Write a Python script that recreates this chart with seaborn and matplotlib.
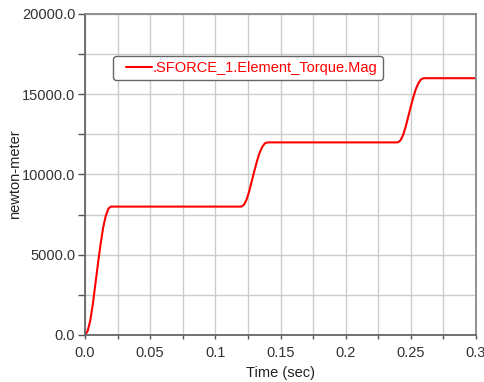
import matplotlib
matplotlib.use("Agg")
import matplotlib.pyplot as plt
import seaborn as sns
import pandas as pd
from matplotlib.ticker import MultipleLocator, FuncFormatter
from matplotlib.legend_handler import HandlerLine2D
from matplotlib.lines import Line2D

time_sec = [0.0, 0.002, 0.004, 0.006, 0.008, 0.010, 0.012, 0.014, 0.016, 0.018, 0.020,
            0.120, 0.122, 0.124, 0.126, 0.128, 0.130, 0.132, 0.134, 0.136, 0.138, 0.140,
            0.240, 0.242, 0.244, 0.246, 0.248, 0.250, 0.252, 0.254, 0.256, 0.258, 0.260,
            0.300]
torque = [0, 240, 880, 1920, 3200, 4480, 5680, 6720, 7440, 7880, 8000,
          8000, 8120, 8440, 8960, 9600, 10240, 10840, 11360, 11720, 11940, 12000,
          12000, 12120, 12440, 12960, 13600, 14240, 14840, 15360, 15720, 15940, 16000,
          16000]
series_name = ".SFORCE_1.Element_Torque.Mag"
x_label = "Time (sec)"
y_label = "newton-meter"

sns.set_style("white")
plt.rcParams['font.family'] = ['Liberation Sans', 'DejaVu Sans']

df = pd.DataFrame({"t": time_sec, "v": torque, "s": series_name})

fig = plt.figure(figsize=(4.85, 3.82), dpi=100)
ax = fig.add_axes([85/485, 47/382, 391/485, 321/382])

sns.lineplot(data=df, x="t", y="v", hue="s", palette=["#ff0000"], linewidth=1.5, ax=ax)

ax.set_xlim(0, 0.3)
ax.set_ylim(0, 20000)
ax.xaxis.set_major_locator(MultipleLocator(0.05))
ax.xaxis.set_minor_locator(MultipleLocator(0.025))
ax.yaxis.set_major_locator(MultipleLocator(5000))
ax.yaxis.set_minor_locator(MultipleLocator(2500))

def xfmt(v, p):
    s = f"{v:.2f}".rstrip("0")
    if s.endswith("."):
        s += "0"
    return s
ax.xaxis.set_major_formatter(FuncFormatter(xfmt))
ax.yaxis.set_major_formatter(FuncFormatter(lambda v, p: f"{v:.1f}"))

ax.grid(True, which="both", color="#cccccc", linewidth=1.0)
ax.set_axisbelow(True)
ax.tick_params(which="both", direction="out", length=3, width=1, color="#555555",
               labelsize=10.5, labelcolor="#333333", left=True, bottom=True)
ax.tick_params(axis="x", which="both", pad=5)
ax.tick_params(axis="y", which="both", length=5, pad=2)

for side in ["left", "bottom"]:
    ax.spines[side].set_color("#666666")
    ax.spines[side].set_linewidth(1.3)
for side in ["top", "right"]:
    ax.spines[side].set_color("#888888")
    ax.spines[side].set_linewidth(1.3)

ax.set_xlabel(x_label, fontsize=10.5, color="#222222", labelpad=4)
ax.set_ylabel(y_label, fontsize=10.5, color="#222222")
ax.yaxis.set_label_coords(-0.16, 0.5)


class PaddedLineHandler(HandlerLine2D):
    def create_artists(self, legend, orig_handle, xdescent, ydescent, width,
                       height, fontsize, trans):
        artists = super().create_artists(legend, orig_handle, xdescent, ydescent,
                                         width, height, fontsize, trans)
        pad = 0.55 * fontsize
        for a in artists:
            if isinstance(a, Line2D) and len(a.get_xdata()) >= 2:
                x0 = -xdescent + pad
                x1 = -xdescent + width
                y = a.get_ydata()[0]
                a.set_data([x0, x1], [y, y])
        return artists


handles, labels = ax.get_legend_handles_labels()
leg = ax.legend(handles, labels, loc="upper left", bbox_to_anchor=(0.0716, 0.869),
                borderaxespad=0, frameon=True, fancybox=True,
                fontsize=10.5, handlelength=2.35, handletextpad=0.05, borderpad=0.35,
                edgecolor="#666666", framealpha=1,
                handler_map={Line2D: PaddedLineHandler()})
leg.get_frame().set_linewidth(1.0)
for txt in leg.get_texts():
    txt.set_color("#ff0000")

fig.savefig("out.png", dpi=100)
